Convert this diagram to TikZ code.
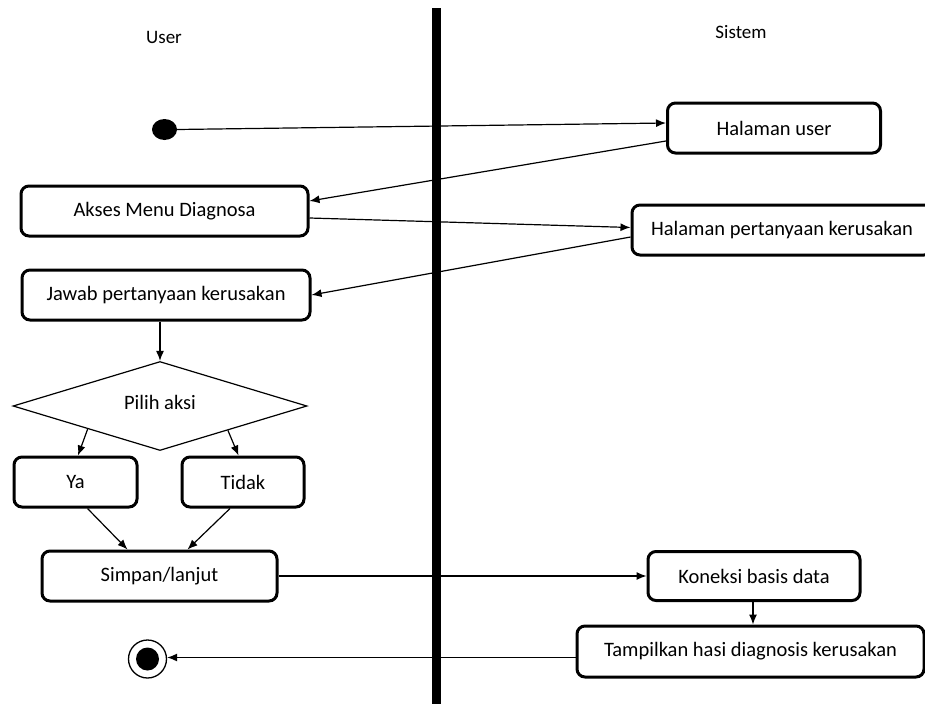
\documentclass[tikz,border=0pt]{standalone}
\usepackage{fontspec}
\setmainfont{Carlito}
\usetikzlibrary{arrows.meta,shapes.geometric,calc}
\begin{document}
\begin{tikzpicture}[x=1pt,y=-1pt,
  font=\fontsize{20.5}{24}\selectfont,
  act/.style={draw,line width=3pt,rounded corners=8pt,inner sep=0pt,align=center},
  flow/.style={line width=1.2pt,-{Latex[length=10pt,width=8pt]}},
  lane/.style={font=\fontsize{19}{23}\selectfont}]
\useasboundingbox (0,0) rectangle (925,704);
\clip (0,0) rectangle (925,704);
\fill[white] (0,0) rectangle (925,704);

% swimlane divider and lane titles
\draw[line width=9pt] (436,8) -- (436,704);
\node[lane] (luser) at (164,37) {User};
\node[lane] (lsys) at (741,32) {Sistem};

% user lane
\node[ellipse,fill=black,minimum width=25pt,minimum height=21pt,inner sep=0pt] (start) at (164.5,129.5) {};
\node[act,minimum width=287pt,minimum height=50pt] (akses) at (164.5,211) {Akses Menu Diagnosa};
\node[act,minimum width=288pt,minimum height=50pt] (jawab) at (166,295) {Jawab pertanyaan kerusakan};
\node[diamond,draw,line width=1.2pt,minimum width=294pt,minimum height=89pt,inner sep=0pt] (dia) at (160,406) {};
\node (diatext) at (160,402) {Pilih aksi};
\node[act,minimum width=123pt,minimum height=50pt] (ya) at (75.5,482) {Ya};
\node[act,minimum width=122pt,minimum height=50pt] (tidak) at (243,482) {Tidak};
\node[act,minimum width=235pt,minimum height=50pt] (simp) at (159.5,576) {Simpan/lanjut};
\node[circle,draw,line width=1.3pt,minimum size=38pt,inner sep=0pt] (end) at (147.5,659) {};
\node[circle,fill=black,minimum size=23pt,inner sep=0pt] (endin) at (147.5,659) {};

% system lane
\node[act,minimum width=213pt,minimum height=50pt] (hu) at (774,128) {Halaman user};
\node[act,minimum width=300pt,minimum height=50pt] (hp) at (782,230) {Halaman pertanyaan kerusakan};
\node[act,minimum width=212pt,minimum height=49pt] (kon) at (754,576) {Koneksi basis data};
\node[act,minimum width=347pt,minimum height=51pt] (tam) at (750.5,651.5) {Tampilkan hasi diagnosis kerusakan};

% control flow
\draw[flow] (start.east) -- ([yshift=5pt]hu.west);
\draw[flow] ([yshift=-13pt]hu.west) -- ([yshift=10pt]akses.east);
\draw[flow] ([yshift=-7pt]akses.east) -- ([yshift=2.5pt]hp.west);
\draw[flow] ([yshift=-7pt]hp.west) -- (jawab.east);
\draw[flow] (jawab.south -| dia.north) -- (dia.north);
\draw[flow] ($(dia.west)!0.51!(dia.south)$) -- ([xshift=2.5pt]ya.north);
\draw[flow] ($(dia.east)!0.54!(dia.south)$) -- ([xshift=-4.5pt]tidak.north);
\draw[flow] ([xshift=12pt]ya.south) -- ([xshift=-32pt]simp.north);
\draw[flow] ([xshift=-13pt]tidak.south) -- ([xshift=28pt]simp.north);
\draw[flow] (simp.east) -- (simp.east -| kon.west);
\draw[flow] ([xshift=-1pt]kon.south) -- ([xshift=-1pt]kon.south |- tam.north);
\draw[flow] ([yshift=-6pt]tam.west) -- ([yshift=-6pt]tam.west -| end.east);
\end{tikzpicture}
\end{document}
